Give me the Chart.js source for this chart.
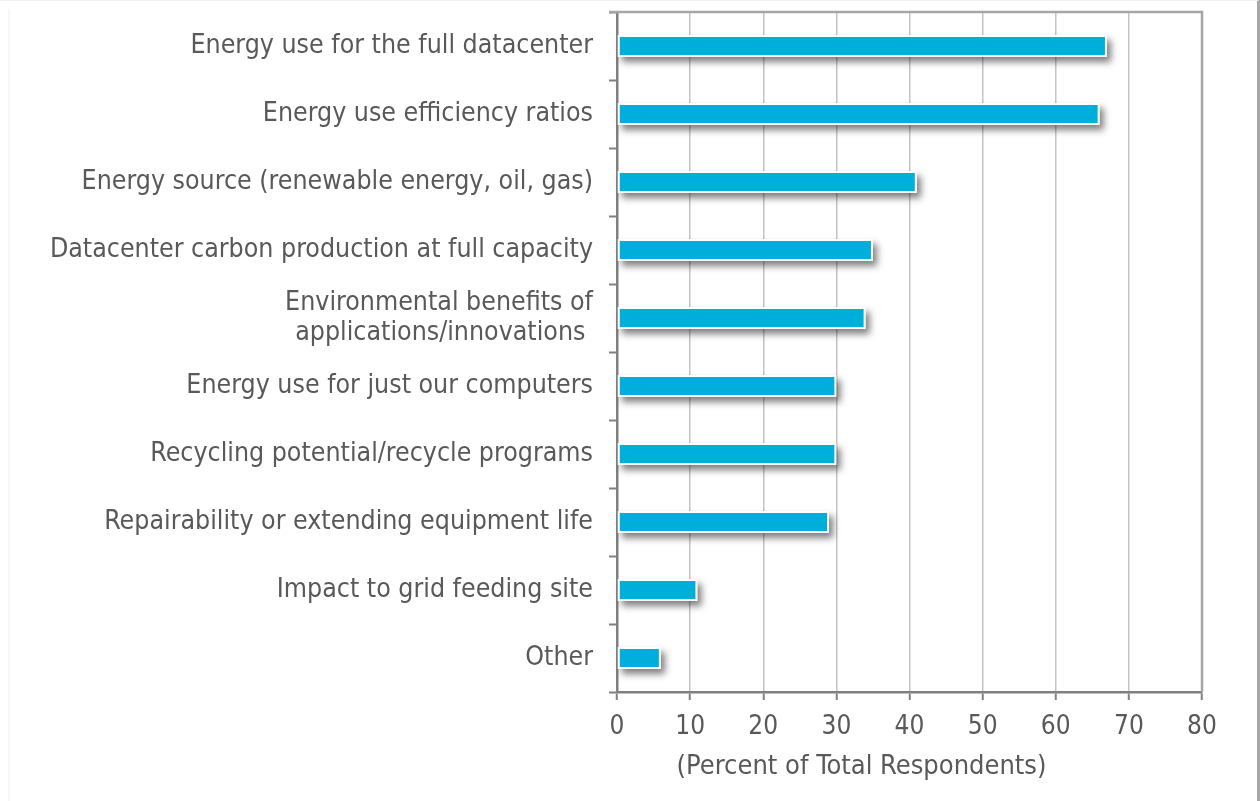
<!DOCTYPE html>
<html>
<head>
<meta charset="utf-8">
<script src="https://cdn.jsdelivr.net/npm/chart.js@4.4.1/dist/chart.umd.min.js"></script>
<style>
    html, body { margin: 0; padding: 0; background: #fff; }
    #wrap {
        position: relative; width: 1260px; height: 801px; box-sizing: border-box;
        border-top: 1px solid #f2f2f2; border-right: 3px solid #a8a8a8;
    }
    #wrap:before {
        content: ''; position: absolute; left: 8px; top: 8px; bottom: 0; width: 2px; background: #f6f6f6;
    }
    #chart { display: block; }
</style>
</head>
<body>
<div id="wrap"><canvas id="chart" width="1257" height="800"></canvas></div>
<script>
const categories = [
    "Energy use for the full datacenter",
    "Energy use efficiency ratios",
    "Energy source (renewable energy, oil, gas)",
    "Datacenter carbon production at full capacity",
    ["Environmental benefits of", "applications/innovations "],
    "Energy use for just our computers",
    "Recycling potential/recycle programs",
    "Repairability or extending equipment life",
    "Impact to grid feeding site",
    "Other"
];
const percents = [67, 66, 41, 35, 34, 30, 30, 29, 11, 6];
const xTicks = [0, 10, 20, 30, 40, 50, 60, 70, 80];
const xTitle = "(Percent of Total Respondents)";

const FONT = "'DejaVu Sans Condensed', 'Liberation Sans Narrow', 'Roboto', sans-serif";
const GREY = '#595959';

// shadow under the bars, drawn before the bars themselves
const barShadow = {
    id: 'barShadow',
    beforeDatasetsDraw(chart) {
        const ctx = chart.ctx;
        const meta = chart.getDatasetMeta(0);
        ctx.save();
        ctx.shadowColor = 'rgba(0,0,0,0.5)';
        ctx.shadowBlur = 7;
        ctx.shadowOffsetX = 4;
        ctx.shadowOffsetY = 5;
        ctx.fillStyle = '#ffffff';
        meta.data.forEach(bar => {
            const p = bar.getProps(['x', 'y', 'base', 'height'], true);
            ctx.fillRect(p.base, p.y - p.height / 2, p.x - p.base, p.height);
        });
        ctx.restore();
    }
};

// box on top and right of the plot, plus the axis title (sits left of centre in the original)
const plotBox = {
    id: 'plotBox',
    afterDraw(chart) {
        const a = chart.chartArea;
        const ctx = chart.ctx;
        ctx.save();
        ctx.strokeStyle = '#a6a6a6';
        ctx.lineWidth = 2.5;
        ctx.beginPath();
        ctx.moveTo(a.left - 8, a.top);
        ctx.lineTo(a.right, a.top);
        ctx.lineTo(a.right, a.bottom);
        ctx.stroke();

        ctx.fillStyle = GREY;
        ctx.font = '27px ' + FONT;
        ctx.textAlign = 'center';
        ctx.textBaseline = 'middle';
        ctx.fillText(xTitle, a.left + (a.right - a.left) * 0.418, a.bottom + 75);
        ctx.restore();
    }
};

new Chart(document.getElementById('chart'), {
    type: 'bar',
    data: {
        labels: categories,
        datasets: [{
            data: percents,
            backgroundColor: '#00aedb',
            borderColor: '#ffffff',
            borderWidth: 2,
            borderSkipped: false,
            barPercentage: 0.32,
            categoryPercentage: 1
        }]
    },
    options: {
        indexAxis: 'y',
        responsive: false,
        animation: false,
        layout: { padding: { top: 11, right: 55, left: 0, bottom: 0 } },
        plugins: {
            legend: { display: false },
            tooltip: { enabled: false }
        },
        scales: {
            x: {
                min: 0,
                max: 80,
                afterBuildTicks: axis => { axis.ticks = xTicks.map(v => ({ value: v })); },
                afterFit: axis => { axis.height = 109; },
                grid: { color: '#c4c4c4', lineWidth: 1.5, tickLength: 8, tickColor: '#808080', tickWidth: 2 },
                border: { color: '#808080', width: 2.5 },
                ticks: { color: GREY, font: { family: FONT, size: 26 }, padding: 12 }
            },
            y: {
                afterFit: axis => {
                    axis.width = 617;
                    axis.paddingTop = 0;
                    axis.paddingBottom = 0;
                },
                grid: { display: true, offset: true, drawOnChartArea: false, tickLength: 8, tickColor: '#808080', tickWidth: 2 },
                border: { color: '#808080', width: 2.5 },
                ticks: { color: GREY, font: { family: FONT, size: 26.5, lineHeight: 1.13 }, padding: 16, autoSkip: false }
            }
        }
    },
    plugins: [barShadow, plotBox]
});
</script>
</body>
</html>
